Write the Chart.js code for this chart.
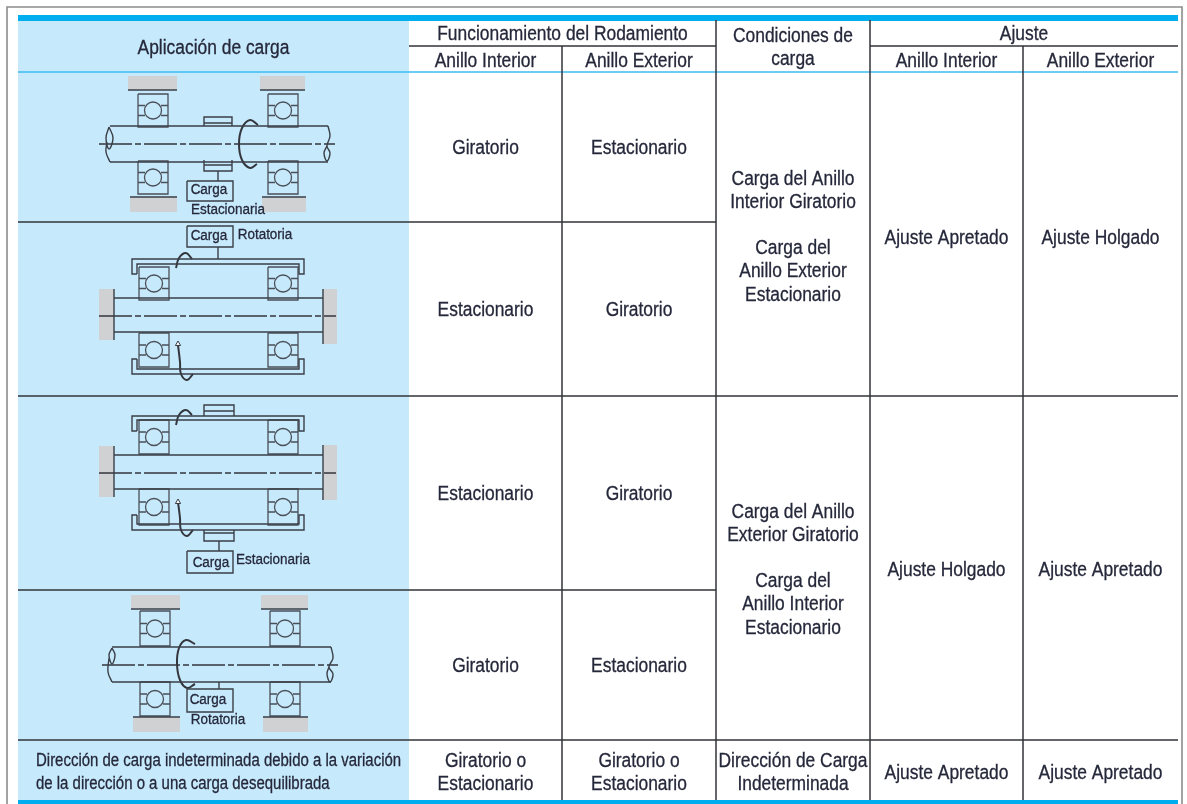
<!DOCTYPE html>
<html>
<head>
<meta charset="utf-8">
<style>
html, body { margin: 0; padding: 0; background: #fff; }
canvas { display: block; filter: blur(0.35px); }
</style>
<script src="https://cdn.jsdelivr.net/npm/chart.js@4"></script>
</head>
<body>
<canvas id="chart" width="1187" height="804"></canvas>
<script>
// table text
var headApplication = 'Aplicación de carga';
var headOperation = 'Funcionamiento del Rodamiento';
var headConditions = ['Condiciones de', 'carga'];
var headFit = 'Ajuste';
var ringNames = ['Anillo Interior', 'Anillo Exterior'];
var innerRing = ['Giratorio', 'Estacionario', 'Estacionario', 'Giratorio'];
var outerRing = ['Estacionario', 'Giratorio', 'Giratorio', 'Estacionario'];
var conditionsA = ['Carga del Anillo', 'Interior Giratorio', '', 'Carga del', 'Anillo Exterior', 'Estacionario'];
var conditionsB = ['Carga del Anillo', 'Exterior Giratorio', '', 'Carga del', 'Anillo Interior', 'Estacionario'];
var fitInner = ['Ajuste Apretado', 'Ajuste Holgado'];
var fitOuter = ['Ajuste Holgado', 'Ajuste Apretado'];
var lastApplication = ['Dirección de carga indeterminada debido a la variación', 'de la dirección o a una carga desequilibrada'];
var lastRing = ['Giratorio o', 'Estacionario'];
var lastConditions = ['Dirección de Carga', 'Indeterminada'];
var lastFit = 'Ajuste Apretado';

// table grid, in the page's units
var colEdges = [18, 409, 562, 716, 870, 1023, 1178];
var rowEdges = [72, 222, 396, 590, 740, 800];

// diagram captions: text, x, y
var captions = [
  ['Carga', 209, 190], ['Estacionaria', 228, 210],
  ['Carga', 209, 236], ['Rotatoria', 265, 235],
  ['Carga', 211, 563], ['Estacionaria', 273, 560],
  ['Carga', 208, 700], ['Rotatoria', 218, 720]
];

// gray supports: x1, y1, x2, y2
var supports = [
  [128, 76, 177, 90], [260, 76, 305, 90], [130, 197, 177, 212], [262, 197, 306, 212],
  [99, 289, 114, 340], [323, 289, 337, 344],
  [99, 446, 114, 497], [323, 445, 337, 500],
  [131, 595, 180, 609], [261, 595, 308, 609], [133, 717, 180, 732], [263, 717, 308, 732]
];

// bearings: left x, top y, bottom y
var bearings = [
  [138, 94, 127], [268, 94, 127], [138, 161, 194], [268, 161, 194],
  [139, 267, 300], [268, 267, 300], [139, 333, 367], [268, 333, 367],
  [139, 420, 454], [268, 420, 454], [139, 489, 525], [268, 489, 525],
  [140, 611, 646], [270, 611, 646], [140, 682, 716], [270, 682, 716]
];

// center lines of the shafts: x1, x2, y
var centerLines = [[99, 335, 144], [99, 336, 316], [99, 336, 473], [102, 338, 665]];

// straight drawing lines, each one a flat x,y,x,y list
var drawLines = [
  // first diagram
  [128, 90, 177, 90], [260, 90, 305, 90], [130, 197, 177, 197], [262, 197, 306, 197],
  [110, 126, 328, 126], [110, 162, 328, 162],
  [204, 126, 204, 117, 232, 117, 232, 126], [204, 123, 232, 123],
  [204, 160, 204, 171, 232, 171, 232, 160], [204, 165, 232, 165],
  [218, 171, 218, 181], [187, 181, 233, 181, 233, 201, 187, 201, 187, 181],
  // second diagram
  [114, 289, 114, 340], [323, 289, 323, 344], [114, 298, 323, 298], [114, 332, 323, 332],
  [137, 274, 132, 274, 132, 259, 304, 259, 304, 274, 299, 274, 299, 264, 137, 264, 137, 274],
  [137, 359, 132, 359, 132, 374, 304, 374, 304, 359, 299, 359, 299, 369, 137, 369, 137, 359],
  [187, 226, 233, 226, 233, 247, 187, 247, 187, 226], [218, 247, 218, 259],
  // third diagram
  [114, 446, 114, 497], [323, 445, 323, 500], [114, 455, 323, 455], [114, 489, 323, 489],
  [137, 431, 132, 431, 132, 416, 304, 416, 304, 431, 299, 431, 299, 420, 137, 420, 137, 431],
  [137, 515, 132, 515, 132, 530, 304, 530, 304, 515, 299, 515, 299, 524, 137, 524, 137, 515],
  [204, 416, 204, 405, 234, 405, 234, 416], [204, 411, 234, 411],
  [204, 530, 204, 541, 234, 541, 234, 530], [204, 533, 234, 533],
  [219, 541, 219, 551], [187, 551, 233, 551, 233, 573, 187, 573, 187, 551],
  // fourth diagram
  [131, 609, 180, 609], [261, 609, 308, 609], [133, 717, 180, 717], [263, 717, 308, 717],
  [112, 647, 331, 647], [112, 682, 331, 682],
  [219, 682, 219, 689], [187, 689, 233, 689, 233, 712, 187, 712, 187, 689]
];

// curved parts: shaft ends
var curveLines = [
  [109, 127, 113, 138, 109, 149, 106, 138, 109, 127],
  [107, 142, 106, 152, 110, 162],
  [328, 126, 330, 136, 327, 146, 330, 153, 327, 161, 324, 153, 327, 146],
  [112, 648, 115, 655, 112, 664, 109, 655, 112, 648],
  [109, 658, 108, 672, 112, 682],
  [331, 647, 333, 658, 329, 667, 333, 674, 330, 682, 327, 674, 329, 667]
];

// rotation arrows
var rotationLines = [
  [258, 125, 250, 120, 242, 128, 239, 144, 242, 160, 250, 168, 257, 164],
  [176, 268, 179, 258, 186, 253, 192, 259],
  [178, 345, 180, 362, 181, 374, 187, 380, 193, 374],
  [176, 425, 179, 415, 186, 410, 192, 415],
  [178, 502, 180, 518, 181, 530, 187, 536, 193, 530],
  [195, 644, 186, 640, 179, 648, 177, 664, 180, 680, 187, 688, 195, 684]
];

// white arrow heads of the rotation arrows
var arrowTips = [[178, 344], [178, 502]];

function withBreaks(list) {
  var pts = [];
  list.forEach(function(line) {
    for (var i = 0; i < line.length; i += 2) {
      pts.push({x: line[i], y: line[i + 1]});
    }
    pts.push({x: NaN, y: NaN});
  });
  return pts;
}

function lineSet(list, color, width, extra) {
  var ds = {
    data: withBreaks(list),
    showLine: true,
    borderColor: color,
    borderWidth: width,
    pointRadius: 0,
    fill: false,
    tension: 0,
    order: 2
  };
  for (var k in extra) ds[k] = extra[k];
  return ds;
}

function blockSet(x1, y1, x2, y2, color) {
  return {
    data: [{x: x1, y: y1}, {x: x2, y: y1}],
    showLine: true,
    borderWidth: 0,
    pointRadius: 0,
    backgroundColor: color,
    fill: {value: y2},
    order: 10
  };
}

var bearingLines = [];
var bearingBalls = [];
bearings.forEach(function(b) {
  var x = b[0], top = b[1], bot = b[2], mid = (top + bot) / 2;
  bearingLines.push([x, top, x + 30, top, x + 30, bot, x, bot, x, top]);
  bearingLines.push([x, mid - 5, x + 7, mid - 5], [x, mid + 5, x + 7, mid + 5]);
  bearingLines.push([x + 23, mid - 5, x + 30, mid - 5], [x + 23, mid + 5, x + 30, mid + 5]);
  bearingBalls.push({x: x + 15, y: mid});
});

var gridBlack = [
  [562, 46, 562, 800], [716, 20, 716, 800], [870, 20, 870, 800], [1023, 46, 1023, 800],
  [409, 46, 716, 46], [870, 46, 1178, 46],
  [18, rowEdges[1], 716, rowEdges[1]], [18, rowEdges[2], 1178, rowEdges[2]],
  [18, rowEdges[3], 716, rowEdges[3]], [18, rowEdges[4], 1178, rowEdges[4]]
];

var datasets = [
  lineSet(drawLines, '#3a3f48', 1.4),
  lineSet(curveLines, '#3a3f48', 1.4, {tension: 0.4}),
  lineSet(rotationLines, '#33363c', 2, {tension: 0.4}),
  lineSet(bearingLines, '#4a4f58', 1.3),
  lineSet(gridBlack, '#333438', 1.5),
  lineSet([[18, 72, 1178, 72]], '#3bbdf0', 1.6),
  lineSet([[7, 804, 7, 7, 1182, 7, 1182, 804]], '#8c8c8c', 1.6),
  {
    data: bearingBalls,
    showLine: false,
    pointStyle: 'circle',
    pointRadius: 8.5,
    pointBackgroundColor: 'rgba(0,0,0,0)',
    pointBorderColor: '#4a4f58',
    pointBorderWidth: 1.3,
    order: 1
  },
  {
    data: arrowTips.map(function(t) { return {x: t[0], y: t[1]}; }),
    showLine: false,
    pointStyle: 'triangle',
    pointRadius: 3,
    pointBackgroundColor: '#ffffff',
    pointBorderColor: '#3a3f48',
    pointBorderWidth: 1,
    order: 1
  }
];

centerLines.forEach(function(c) {
  datasets.push(lineSet([[c[0], c[2], c[1], c[2]]], '#33363c', 1.6, {borderDash: [33, 3, 6, 3]}));
});
supports.forEach(function(s) {
  datasets.push(blockSet(s[0], s[1], s[2], s[3], '#d0d1d3'));
});
// the blue bands go in front of the pale column, the pale column behind everything
datasets.push(blockSet(18, 15, 1178, 21, '#00aeef'));
datasets.push(blockSet(18, 800, 1178, 804, '#00aeef'));
datasets[datasets.length - 1].order = 9;
datasets[datasets.length - 2].order = 9;
datasets.push(blockSet(18, 21, 409, 800, '#c7e9fc'));
datasets[datasets.length - 1].order = 11;

// no narrow face is installed, so the text is squeezed sideways
var fontName = '"Liberation Sans", sans-serif';
var squeeze = 0.87;

var tableText = {
  id: 'tableText',
  afterDraw: function(chart) {
    var ctx = chart.ctx;
    var sx = chart.scales.x, sy = chart.scales.y;

    function put(text, x, y, size, sq) {
      ctx.save();
      ctx.translate(sx.getPixelForValue(x), sy.getPixelForValue(y));
      ctx.scale(sq || squeeze, 1);
      ctx.font = size + 'px ' + fontName;
      ctx.fillText(text, 0, 0);
      ctx.strokeText(text, 0, 0);
      ctx.restore();
    }
    function stack(lines, x, y, step, size, sq) {
      var start = y - step * (lines.length - 1) / 2;
      lines.forEach(function(l, i) { put(l, x, start + i * step, size, sq); });
    }
    function mid(a, b) { return (a + b) / 2; }

    ctx.save();
    ctx.fillStyle = '#25283a';
    ctx.strokeStyle = '#25283a';
    ctx.lineWidth = 0.3;
    ctx.textAlign = 'center';
    ctx.textBaseline = 'middle';

    put(headApplication, mid(colEdges[0], colEdges[1]), 48, 20);
    put(headOperation, mid(colEdges[1], colEdges[3]), 34, 20);
    stack(headConditions, mid(colEdges[3], colEdges[4]), 48, 23, 20);
    put(headFit, mid(colEdges[4], colEdges[6]), 34, 20);
    ringNames.forEach(function(n, i) {
      put(n, mid(colEdges[1 + i], colEdges[2 + i]), 61, 20);
      put(n, mid(colEdges[4 + i], colEdges[5 + i]), 61, 20);
    });

    for (var r = 0; r < 4; r++) {
      var cy = mid(rowEdges[r], rowEdges[r + 1]) + 1;
      put(innerRing[r], mid(colEdges[1], colEdges[2]), cy, 20);
      put(outerRing[r], mid(colEdges[2], colEdges[3]), cy, 20);
    }
    stack(conditionsA, mid(colEdges[3], colEdges[4]), 237, 23.2, 20);
    stack(conditionsB, mid(colEdges[3], colEdges[4]), 570, 23.2, 20);
    put(fitInner[0], mid(colEdges[4], colEdges[5]), 238, 20);
    put(fitOuter[0], mid(colEdges[5], colEdges[6]), 238, 20);
    put(fitInner[1], mid(colEdges[4], colEdges[5]), 570, 20);
    put(fitOuter[1], mid(colEdges[5], colEdges[6]), 570, 20);

    ctx.textAlign = 'left';
    stack(lastApplication, colEdges[0] + 18, 773, 23, 17.5, 0.855);
    ctx.textAlign = 'center';
    stack(lastRing, mid(colEdges[1], colEdges[2]), 773, 23, 20);
    stack(lastRing, mid(colEdges[2], colEdges[3]), 773, 23, 20);
    stack(lastConditions, mid(colEdges[3], colEdges[4]), 773, 23, 20);
    put(lastFit, mid(colEdges[4], colEdges[5]), 773, 20);
    put(lastFit, mid(colEdges[5], colEdges[6]), 773, 20);

    captions.forEach(function(c) { put(c[0], c[1], c[2], 15.5); });
    ctx.restore();
  }
};

var myChart = new Chart(document.getElementById('chart'), {
  type: 'scatter',
  data: {datasets: datasets},
  plugins: [tableText],
  options: {
    responsive: false,
    animation: false,
    layout: {padding: 0, autoPadding: false},
    spanGaps: false,
    plugins: {legend: {display: false}, tooltip: {enabled: false}},
    scales: {
      x: {type: 'linear', display: false, min: 0, max: 1187},
      y: {type: 'linear', display: false, min: 0, max: 804, reverse: true}
    }
  }
});
</script>
</body>
</html>
